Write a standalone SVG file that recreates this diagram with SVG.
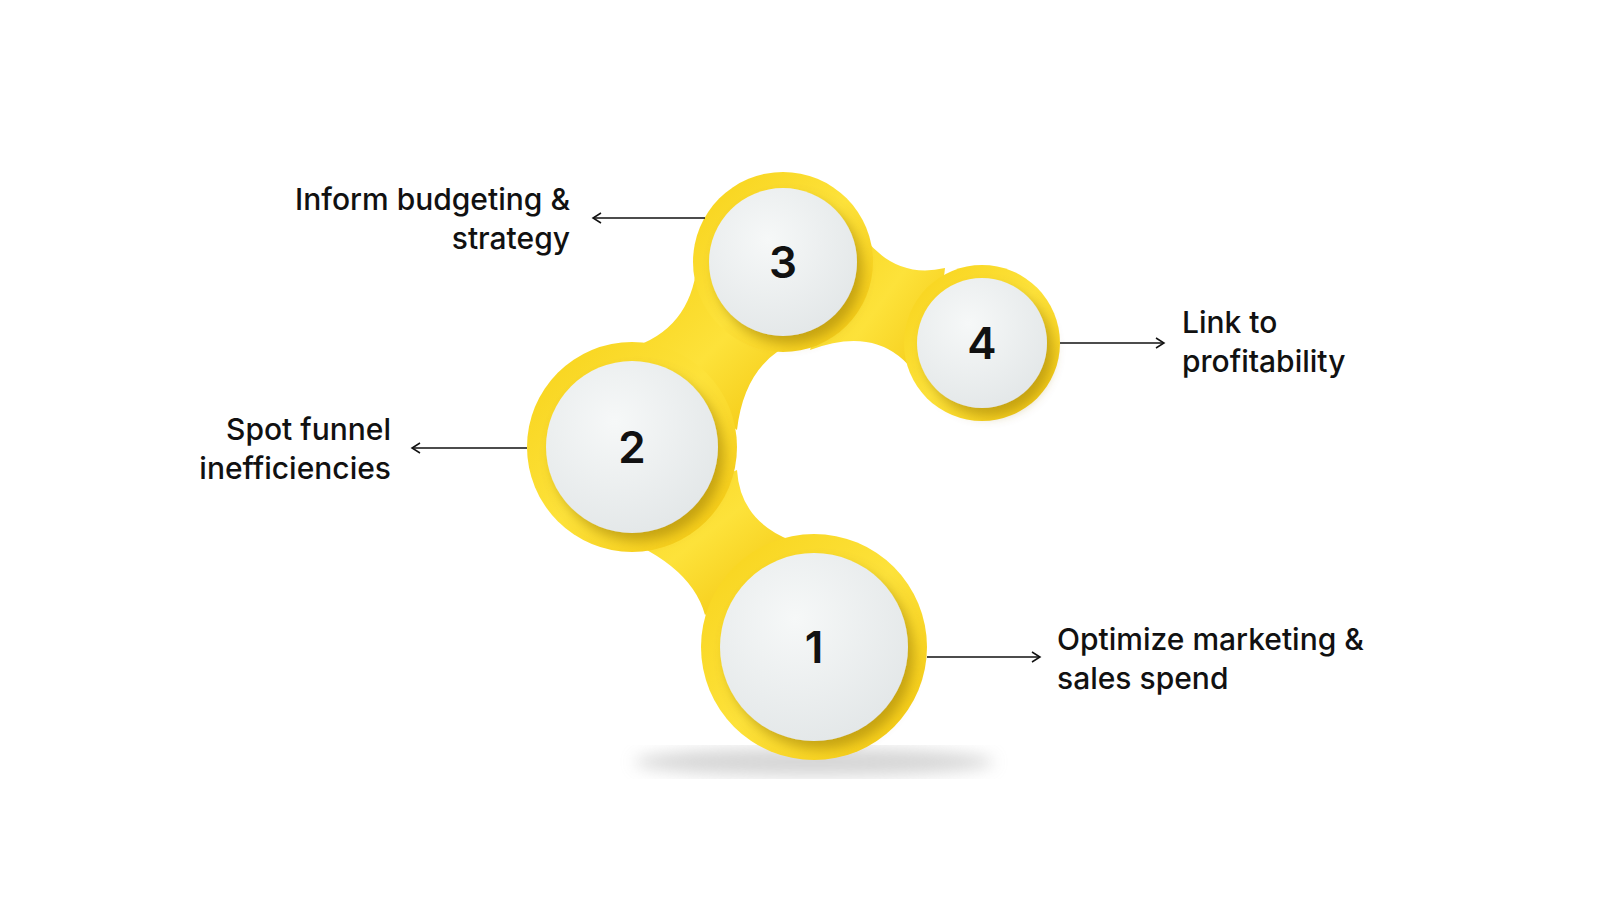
<svg xmlns="http://www.w3.org/2000/svg" width="1600" height="900" viewBox="0 0 1600 900">
<defs>
<linearGradient id="yg" x1="0" y1="0" x2="1" y2="1"><stop offset="0" stop-color="#f7d21a"/><stop offset="0.5" stop-color="#fde23a"/><stop offset="1" stop-color="#f2c40c"/></linearGradient>
<radialGradient id="wg" cx="0.4" cy="0.35" r="0.7"><stop offset="0" stop-color="#f6f8f8"/><stop offset="1" stop-color="#e3e7e8"/></radialGradient>
<filter id="sh" x="-30%" y="-30%" width="160%" height="160%"><feDropShadow dx="6" dy="8" stdDeviation="6" flood-color="#8a6a00" flood-opacity="0.45"/></filter>
<filter id="bl"><feGaussianBlur stdDeviation="8"/></filter>
<marker id="ar" markerWidth="12" markerHeight="12" refX="10" refY="6" orient="auto" markerUnits="userSpaceOnUse"><path d="M2,1 L10,6 L2,11" fill="none" stroke="#111" stroke-width="1.5"/></marker>
</defs>
<style>
.t{font-family:Inter,"Liberation Sans",sans-serif;font-size:30px;font-weight:500;fill:#111}
.n{font-family:Inter,"Liberation Sans",sans-serif;font-size:44px;font-weight:600;fill:#111;text-anchor:middle}
.c{stroke:#111;stroke-width:1.5;fill:none}
</style>
<rect width="1600" height="900" fill="#fff"/>
<ellipse cx="814" cy="762" rx="180" ry="14" fill="#bbb" filter="url(#bl)" opacity="0.6"/>
<g id="blob" fill="url(#yg)">
<path d="M600,530 Q690,560 705,615 L790,540 Q740,520 737,470 Z"/>
<path d="M630,348 Q690,330 697,265 L800,340 Q745,360 737,430 Z"/>
<path d="M850,215 Q885,282 945,268 L930,400 Q895,318 810,350 Z"/>
<circle cx="814" cy="647" r="113"/>
<circle cx="632" cy="447" r="105"/>
<circle cx="783" cy="262" r="90"/>
<circle cx="982" cy="343" r="78"/>
</g>
<g id="connectors">
<line class="c" x1="927" y1="657" x2="1040" y2="657" marker-end="url(#ar)"/>
<line class="c" x1="527" y1="448" x2="412" y2="448" marker-end="url(#ar)"/>
<line class="c" x1="705" y1="218" x2="593" y2="218" marker-end="url(#ar)"/>
<line class="c" x1="1060" y1="343" x2="1164" y2="343" marker-end="url(#ar)"/>
</g>
<g id="node1"><circle cx="814" cy="647" r="94" fill="url(#wg)" filter="url(#sh)"/><text class="n" x="814" y="663">1</text>
<text class="t" x="1057" y="650">Optimize marketing &amp;</text><text class="t" x="1057" y="689">sales spend</text></g>
<g id="node2"><circle cx="632" cy="447" r="86" fill="url(#wg)" filter="url(#sh)"/><text class="n" x="632" y="463">2</text>
<text class="t" x="391" y="440" text-anchor="end">Spot funnel</text><text class="t" x="391" y="479" text-anchor="end">inefficiencies</text></g>
<g id="node3"><circle cx="783" cy="262" r="74" fill="url(#wg)" filter="url(#sh)"/><text class="n" x="783" y="278">3</text>
<text class="t" x="570" y="210" text-anchor="end">Inform budgeting &amp;</text><text class="t" x="570" y="249" text-anchor="end">strategy</text></g>
<g id="node4"><circle cx="982" cy="343" r="65" fill="url(#wg)" filter="url(#sh)"/><text class="n" x="982" y="359">4</text>
<text class="t" x="1182" y="333">Link to</text><text class="t" x="1182" y="372">profitability</text></g>
</svg>
